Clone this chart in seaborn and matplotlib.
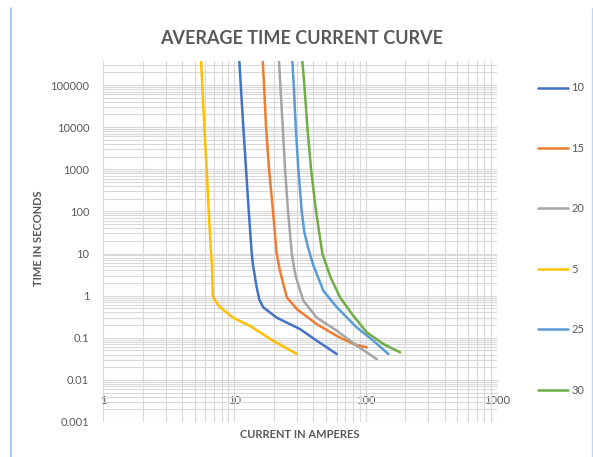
import numpy as np
import pandas as pd
import matplotlib
matplotlib.use("Agg")
import matplotlib.pyplot as plt
import matplotlib.ticker as mticker
from matplotlib.lines import Line2D
import seaborn as sns

# ---- data ----
series_names = ["10", "15", "20", "5", "25", "30"]
series_colors = ["#4472C4", "#ED7D31", "#A5A5A5", "#FFC000", "#5B9BD5", "#70AD47"]

current_10 = [10.92, 11.19, 11.71, 12.28, 12.88, 13.57, 13.88, 14.8, 15.5, 16.6, 21.0, 31.7, 42.4, 60.3]
time_10 = [370000, 100000, 10000, 1000, 100, 10, 5.2, 1.58, 0.8, 0.53, 0.30, 0.16, 0.085, 0.041]

current_15 = [16.46, 16.84, 17.44, 18.38, 19.7, 21.0, 22.2, 25.1, 29.9, 42.4, 60.3, 80.6, 102]
time_15 = [370000, 100000, 10000, 1000, 100, 10, 4.0, 0.91, 0.48, 0.21, 0.11, 0.071, 0.059]

current_20 = [21.9, 22.4, 23.37, 24.33, 25.64, 27.37, 28.3, 29.2, 33.5, 42.4, 60.3, 85.5, 121.5]
time_20 = [370000, 100000, 10000, 1000, 100, 10, 5.2, 3.0, 0.76, 0.30, 0.147, 0.065, 0.031]

current_5 = [5.58, 5.70, 5.91, 6.16, 6.38, 6.65, 6.76, 6.85, 7.14, 7.78, 9.77, 13.2, 19.7, 29.9]
time_5 = [370000, 100000, 10000, 1000, 100, 10, 5.2, 1.0, 0.76, 0.53, 0.30, 0.19, 0.085, 0.041]

current_25 = [27.65, 28.34, 29.35, 30.72, 32.61, 34.13, 36.61, 39.97, 47.6, 60.3, 85.5, 114.4, 148.9]
time_25 = [370000, 100000, 10000, 1000, 100, 32, 13.1, 5.2, 1.31, 0.53, 0.176, 0.085, 0.041]

current_30 = [32.96, 34.13, 35.97, 38.39, 41.9, 46.8, 50.3, 54.0, 63.8, 80.6, 102, 136.4, 182.8]
time_30 = [370000, 100000, 10000, 1000, 100, 10, 5.2, 2.73, 0.91, 0.33, 0.134, 0.071, 0.045]

y_ticks = [0.001, 0.01, 0.1, 1, 10, 100, 1000, 10000, 100000]
x_ticks = [1, 10, 100, 1000]

currents = [current_10, current_15, current_20, current_5, current_25, current_30]
times = [time_10, time_15, time_20, time_5, time_25, time_30]

rows = []
for name, cs, ts in zip(series_names, currents, times):
    for i, (c, t) in enumerate(zip(cs, ts)):
        rows.append({"series": name, "order": i, "current": c, "time": t})
df = pd.DataFrame(rows)

# ---- figure ----
sns.set_style("white")
plt.rcParams["font.family"] = ["Lato", "DejaVu Sans"]
text_gray = "#595959"
grid_gray = "#D9D9D9"

W, H = 593, 457
fig = plt.figure(figsize=(W / 100, H / 100), dpi=100)
ax = fig.add_axes([103 / W, 1 - 422 / H, (497 - 103) / W, (422 - 61) / H])

sns.lineplot(data=df, x="current", y="time", hue="series", hue_order=series_names,
             palette=series_colors, sort=False, estimator=None, units="series",
             linewidth=1.8, ax=ax, legend=True)

ax.set_xscale("log")
ax.set_yscale("log")
ax.set_xlim(1, 1000)
ax.set_ylim(0.001, 10 ** 5.57)

ax.xaxis.set_major_locator(mticker.FixedLocator(x_ticks))
ax.yaxis.set_major_locator(mticker.FixedLocator(y_ticks))
ax.xaxis.set_minor_locator(mticker.LogLocator(base=10, subs=np.arange(2, 10), numticks=100))
ax.yaxis.set_minor_locator(mticker.LogLocator(base=10, subs=np.arange(2, 10), numticks=100))
fmt = mticker.FuncFormatter(lambda v, p: f"{v:g}")
ax.xaxis.set_major_formatter(fmt)
ax.yaxis.set_major_formatter(fmt)
ax.xaxis.set_minor_formatter(mticker.NullFormatter())
ax.yaxis.set_minor_formatter(mticker.NullFormatter())

ax.grid(True, which="both", color=grid_gray, linewidth=0.8)
ax.set_axisbelow(True)
for s in ["top", "right", "left"]:
    ax.spines[s].set_visible(False)
ax.spines["bottom"].set_position(("data", 0.01))
ax.spines["bottom"].set_color(grid_gray)
ax.spines["bottom"].set_linewidth(0.8)

ax.tick_params(axis="both", which="both", length=0, colors=text_gray, labelsize=8)
ax.tick_params(axis="x", pad=11)
ax.tick_params(axis="y", pad=10)
ax.set_xlabel("")
ax.set_ylabel("")

# legend
handles, labels = ax.get_legend_handles_labels()
ax.legend(handles, labels, loc="center left", bbox_to_anchor=(528 / W, 1 - 239 / H),
          bbox_transform=fig.transFigure, frameon=False, fontsize=8,
          labelspacing=4.45, handlelength=2.7, handletextpad=0.3,
          labelcolor=text_gray)

# titles
fig.text(302 / W, 1 - 38 / H, "AVERAGE TIME CURRENT CURVE", ha="center", va="center",
         fontsize=13, fontweight="bold", color=text_gray)
fig.text(38 / W, 1 - 238 / H, "TIME IN SECONDS", ha="center", va="center", rotation=90,
         fontsize=8, fontweight="bold", color=text_gray)
fig.text(300 / W, 1 - 434 / H, "CURRENT IN AMPERES", ha="center", va="center",
         fontsize=8, fontweight="bold", color=text_gray)

# screenshot frame lines
fig.add_artist(Line2D([11 / W, 11 / W], [0, 1 - 8 / H], transform=fig.transFigure,
                      color="#9DC3E6", linewidth=1.2))
fig.add_artist(Line2D([592 / W, 592 / W], [0, 1 - 8 / H], transform=fig.transFigure,
                      color="#BDD7EE", linewidth=1.0))

fig.savefig("out.png", dpi=100)
